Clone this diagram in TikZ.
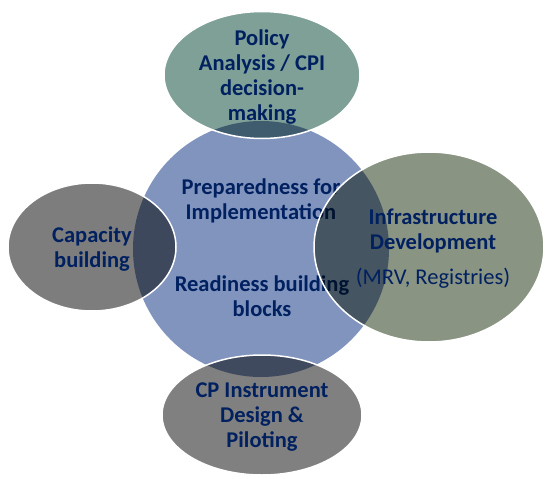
\documentclass[tikz,border=0pt]{standalone}
\usepackage{fontspec}
\setmainfont{Carlito}
\usetikzlibrary{positioning,shapes.geometric}
\definecolor{navytext}{RGB}{0,32,96}
\definecolor{hubblue}{RGB}{128,148,190}
\definecolor{policygreen}{RGB}{126,160,150}
\definecolor{capgray}{RGB}{125,125,125}
\definecolor{infragreen}{RGB}{138,148,131}
\definecolor{instrgray}{RGB}{128,128,128}
\tikzset{
  hub/.style={circle,fill=hubblue,minimum size=256pt,inner sep=0pt},
  sector/.style 2 args={ellipse,inner sep=0pt,minimum width=#1,minimum height=#2},
  rim/.style={draw=white,line width=1.5pt},
  caption/.style={text=navytext,align=center,
    font=\bfseries\fontsize{22.5}{25}\selectfont}
}

\begin{document}
\begin{tikzpicture}[x=1pt,y=-1pt]
  \useasboundingbox (0,0) rectangle (546,479);
  % hub
  \node[hub] (hub) at (261,249) {};
  \node[caption] (prep) at (261,201) {Preparedness for\\Implementation};
  \node[caption] (ready) at (262,296) {Readiness building\\blocks};
  % satellites
  \begin{scope}[blend mode=multiply]
    \node[sector={196pt}{127pt},fill=policygreen] (policy) at (262,75) {};
    \node[sector={168pt}{128pt},fill=capgray] (capacity) at (92,247) {};
    \node[sector={230pt}{190pt},fill=infragreen] (infra) at (429,247) {};
    \node[sector={200pt}{120pt},fill=instrgray] (instrument) at (262,415) {};
  \end{scope}
  \node[sector={196pt}{127pt},rim] (policy rim) at (policy) {};
  \node[sector={168pt}{128pt},rim] (capacity rim) at (capacity) {};
  \node[sector={230pt}{190pt},rim] (infra rim) at (infra) {};
  \node[sector={200pt}{120pt},rim] (instrument rim) at (instrument) {};
  % labels
  \node[caption] (policy text) at (262,77) {Policy\\Analysis / CPI\\decision-\\making};
  \node[caption] (capacity text) at (92,249) {Capacity\\building};
  \node[caption] (infra text) at (433,249)
    {Infrastructure\\Development\\[10pt]{\mdseries (MRV, Registries)}};
  \node[caption] (instrument text) at (262,417) {CP Instrument\\Design \&\\Piloting};
\end{tikzpicture}
\end{document}
